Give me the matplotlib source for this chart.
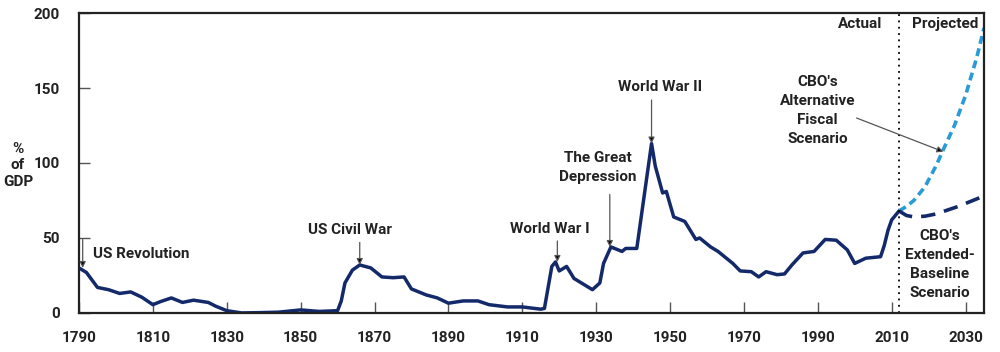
from matplotlib import pyplot as plt

# historical debt held by the public, % of GDP
years = [1790, 1792, 1795, 1798, 1801, 1804, 1807, 1810, 1812, 1815,
         1818, 1821, 1825, 1827, 1830, 1834, 1839, 1844, 1850, 1855,
         1860, 1861, 1862, 1864, 1866, 1869, 1872, 1875, 1878, 1880,
         1884, 1887, 1890, 1894, 1898, 1901, 1906, 1910, 1915, 1916,
         1918, 1919, 1920, 1922, 1924, 1926, 1929, 1931, 1932, 1934,
         1937, 1938, 1941, 1943, 1945, 1946, 1948, 1949, 1951, 1954,
         1957, 1958, 1961, 1963, 1967, 1969, 1972, 1974, 1976, 1979,
         1981, 1983, 1986, 1989, 1992, 1995, 1998, 2000, 2003, 2007,
         2008, 2009, 2010, 2012]
debt = [30, 27, 17, 15.5, 13, 14, 10.5, 5.5, 7.5, 10,
        7, 8.5, 7, 4.5, 1.5, 0, 0.2, 0.5, 2, 1,
        1.5, 8, 20, 28.5, 32, 30, 24, 23.5, 24, 16,
        12, 10, 6.5, 8, 8, 5.5, 4, 4, 2.5, 3,
        31, 34, 28, 31, 23, 20, 15.5, 20, 33, 44,
        41, 43, 43, 78, 113, 98, 80, 81, 64, 61,
        49, 50, 44, 41, 33, 28, 27.5, 24, 27.5, 25.5,
        26, 32, 40, 41, 49, 48.5, 42, 33, 36.5, 37.5,
        45, 55, 62, 68]

# CBO projections
alt_years = [2012, 2014, 2016, 2019, 2022, 2024, 2027, 2030, 2033, 2035]
alt_debt = [68, 71, 75, 84, 98, 109, 125, 145, 170, 190]
base_years = [2012, 2014, 2016, 2019, 2022, 2025, 2028, 2031, 2035]
base_debt = [68, 65, 64, 64.5, 66, 68.5, 71, 74, 78]

x_ticks = list(range(1790, 2031, 20))
y_ticks = [0, 50, 100, 150, 200]

NAVY = "#13296a"
LIGHT = "#2a9bd6"
TEXT = "#222222"
FS = 11


def note(ax, text, xy, **kw):
    """event label placed in data coordinates"""
    ax.text(xy[0], xy[1], text, color=TEXT, fontsize=FS,
            fontweight="bold", va="center", **kw)


def arrow(ax, start, end):
    ax.annotate("", xy=end, xytext=start,
                arrowprops=dict(arrowstyle="-|>", color="#555555", lw=0.9,
                                mutation_scale=9, fc="black",
                                shrinkA=0, shrinkB=0))


def main():
    plt.rcParams['font.family'] = ['Roboto', 'DejaVu Sans']
    fig = plt.figure(figsize=(10, 3.52), dpi=100)
    ax = fig.add_axes([0.079, 0.111, 0.905, 0.852])

    ax.plot(years, debt, color=NAVY, lw=2.5, solid_joinstyle="round")
    ax.plot(alt_years, alt_debt, color=LIGHT, lw=2.6, dashes=(2.2, 1.3))
    ax.plot(base_years, base_debt, color=NAVY, lw=2.6, dashes=(4, 2.5))
    ax.axvline(2012, color="black", lw=1.3, ls=(0, (1, 2.5)))

    ax.set_xlim(1790, 2035)
    ax.set_ylim(0, 200)
    ax.set_xticks(x_ticks)
    ax.set_yticks(y_ticks)
    ax.tick_params(direction="in", length=8, width=1, colors="#555555",
                   labelcolor=TEXT, labelsize=FS)
    ax.tick_params(axis="x", pad=13)
    ax.tick_params(axis="y", pad=14)
    for lab in ax.get_xticklabels() + ax.get_yticklabels():
        lab.set_fontweight("bold")
    for sp in ax.spines.values():
        sp.set_linewidth(1.6)
        sp.set_color("#222222")

    fig.text(0.018, 0.53, "%\nof\nGDP", ha="center", va="center",
             fontsize=FS, fontweight="bold", color=TEXT, linespacing=1.2)

    note(ax, "US Revolution", (1793.8, 39.5))
    arrow(ax, (1791, 49), (1791, 30))
    note(ax, "US Civil War", (1863.4, 55.5), ha="center")
    arrow(ax, (1866, 47), (1866, 32))
    note(ax, "World War I", (1917.5, 56), ha="center")
    arrow(ax, (1919.5, 48), (1919.5, 34))
    note(ax, "The Great\nDepression", (1930.5, 97), ha="center",
         linespacing=1.45)
    arrow(ax, (1933.7, 79), (1933.7, 44))
    note(ax, "World War II", (1947.2, 151), ha="center")
    arrow(ax, (1945, 142), (1945, 113))
    note(ax, "CBO's\nAlternative\nFiscal\nScenario", (1990, 135),
         ha="center", linespacing=1.45)
    arrow(ax, (2000.5, 130), (2024, 107.5))
    note(ax, "CBO's\nExtended-\nBaseline\nScenario", (2023, 32.5),
         ha="center", linespacing=1.45)
    note(ax, "Actual", (2001.6, 192.5), ha="center")
    note(ax, "Projected", (2024.6, 192.5), ha="center")

    fig.savefig("out.png", dpi=100)


if __name__ == '__main__':
    main()
